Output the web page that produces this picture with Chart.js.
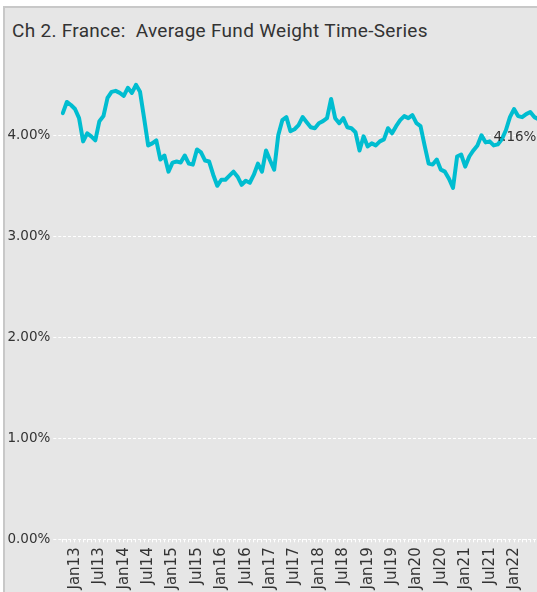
<!DOCTYPE html>
<html><head><meta charset="utf-8">
<script src="https://cdn.jsdelivr.net/npm/chart.js@4.4.0/dist/chart.umd.min.js"></script>
<style>
html,body{margin:0;padding:0;width:537px;height:592px;overflow:hidden;background:#fff;}
#frame{position:absolute;left:3px;top:6px;width:600px;height:600px;background:#e6e6e6;border-left:2px solid #c8c8c8;border-top:2px solid #c8c8c8;}
#title{position:absolute;left:12px;top:20px;font-family:Roboto, sans-serif;font-size:19px;letter-spacing:0.3px;color:#333;white-space:pre;line-height:22px;}
#wrap{position:absolute;left:0;top:0;width:545px;height:600px;}
</style></head><body>
<div id="frame"></div>
<div id="title">Ch 2. France:  Average Fund Weight Time-Series</div>
<div id="wrap"><canvas id="c" width="545" height="600"></canvas></div>
<script>
// Monthly series, Oct 2012 .. Jul 2022
const startYear = 2012, startMonth = 9; // October (0-based)
const monthNames = ["Jan","Feb","Mar","Apr","May","Jun","Jul","Aug","Sep","Oct","Nov","Dec"];
const weights = [
  4.22, 4.33, 4.30,
  4.26, 4.17, 3.94, 4.02, 3.99, 3.95, 4.14, 4.19, 4.37, 4.43, 4.44, 4.42,
  4.39, 4.47, 4.42, 4.50, 4.43, 4.17, 3.90, 3.92, 3.95, 3.76, 3.80, 3.64,
  3.73, 3.74, 3.73, 3.80, 3.72, 3.71, 3.86, 3.83, 3.75, 3.74, 3.61, 3.50,
  3.56, 3.56, 3.60, 3.64, 3.59, 3.51, 3.55, 3.53, 3.61, 3.72, 3.64, 3.85,
  3.75, 3.66, 4.00, 4.15, 4.18, 4.04, 4.06, 4.10, 4.18, 4.13, 4.08, 4.07,
  4.12, 4.14, 4.17, 4.36, 4.17, 4.12, 4.17, 4.08, 4.07, 4.03, 3.85, 3.99,
  3.89, 3.92, 3.90, 3.94, 3.96, 4.07, 4.02, 4.09, 4.15, 4.19, 4.17, 4.20,
  4.12, 4.09, 3.90, 3.72, 3.71, 3.76, 3.66, 3.64, 3.57, 3.48, 3.79, 3.81,
  3.69, 3.79, 3.85, 3.90, 4.00, 3.93, 3.94, 3.90, 3.91, 3.96, 4.05, 4.18,
  4.26, 4.19, 4.18, 4.21, 4.23, 4.18, 4.16
];
const tickLabels = ["Jan13","Jul13","Jan14","Jul14","Jan15","Jul15","Jan16","Jul16","Jan17",
  "Jul17","Jan18","Jul18","Jan19","Jul19","Jan20","Jul20","Jan21","Jul21","Jan22"];
const yTicks = [0, 1, 2, 3, 4];

const months = [];
for (let i = 0; i < weights.length; i++) {
  const m = (startMonth + i) % 12;
  const y = startYear + Math.floor((startMonth + i) / 12);
  months.push(monthNames[m] + String(y).slice(2));
}

const lastLabel = {
  id: 'lastLabel',
  afterDatasetsDraw(chart) {
    const meta = chart.getDatasetMeta(0);
    const pt = meta.data[meta.data.length - 1];
    const ctx = chart.ctx;
    ctx.save();
    ctx.font = '13.5px "DejaVu Sans"';
    ctx.fillStyle = '#333';
    ctx.textAlign = 'right';
    ctx.textBaseline = 'middle';
    ctx.fillText(weights[weights.length - 1].toFixed(2) + '%', pt.x - 2, pt.y + 18);
    ctx.restore();
  }
};

new Chart(document.getElementById('c'), {
  type: 'line',
  data: {
    labels: months,
    datasets: [{
      data: weights,
      borderColor: '#00bdd0',
      borderWidth: 4,
      pointRadius: 0,
      tension: 0,
      fill: false,
      borderJoinStyle: 'round',
      borderCapStyle: 'round'
    }]
  },
  options: {
    responsive: false,
    animation: false,
    devicePixelRatio: 1,
    layout: { padding: { top: 64.6, right: 6.6, left: 0, bottom: 0 } },
    plugins: { legend: { display: false }, tooltip: { enabled: false } },
    scales: {
      x: {
        type: 'category',
        offset: false,
        afterFit(s) { s.height = 600 - 539.3; s.paddingLeft = 0; s.paddingRight = 0; },
        grid: { drawOnChartArea: false, drawTicks: true, tickLength: 3, color: '#ffffff', lineWidth: 1 },
        border: { display: false },
        ticks: {
          autoSkip: false, maxRotation: 90, minRotation: 90, padding: 5,
          font: { family: 'DejaVu Sans', size: 15 }, color: '#333',
          callback(v, i) { const l = months[i]; return tickLabels.includes(l) ? l : ''; }
        }
      },
      y: {
        min: 0, max: 4.7,
        afterFit(s) { s.width = 62.8; s.paddingTop = 0; s.paddingBottom = 0; },
        afterBuildTicks(s) { s.ticks = yTicks.map(v => ({ value: v })); },
        grid: { color: '#ffffff', lineWidth: 1, tickLength: 9.5, tickColor: '#ffffff', tickBorderDash: [3, 2] },
        border: { display: false, dash: [3, 2] },
        ticks: {
          padding: 3, font: { family: 'DejaVu Sans', size: 13.5 }, color: '#333',
          callback: v => v.toFixed(2) + '%'
        }
      }
    }
  },
  plugins: [lastLabel]
});
</script>
</body></html>
